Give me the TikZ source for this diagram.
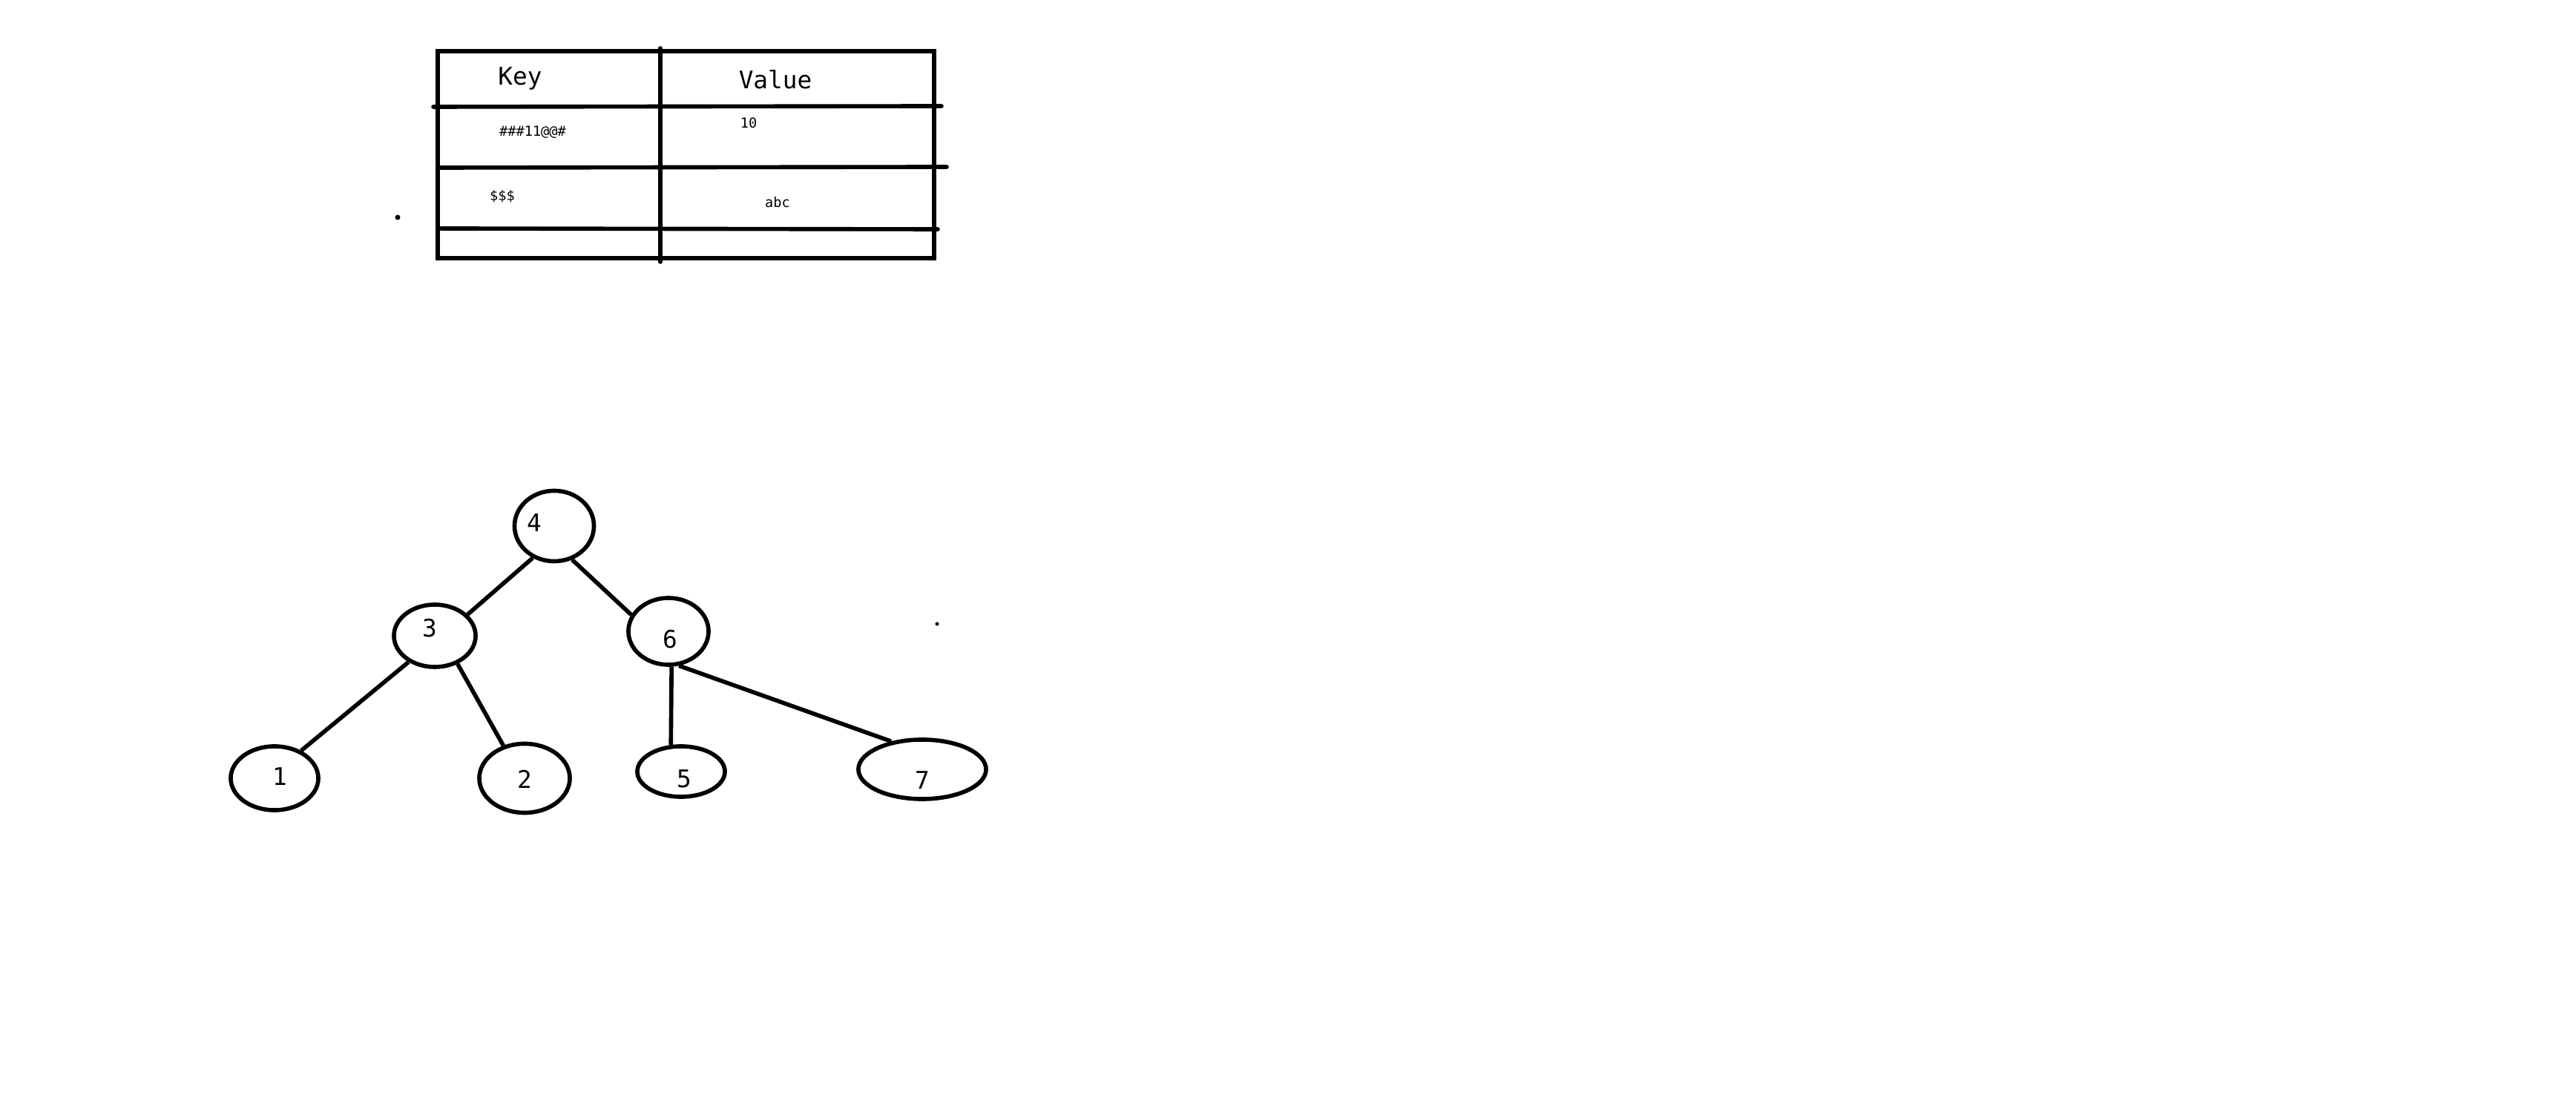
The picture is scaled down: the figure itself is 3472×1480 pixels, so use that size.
\documentclass[tikz,border=0pt]{standalone}
\usepackage{fontspec}
\setmonofont{DejaVu Sans Mono}
\usetikzlibrary{shapes.geometric}
\tikzset{
	every picture/.style={font=\ttfamily\fontsize{9.3}{9.3}\selectfont,},
	small/.style={font=\ttfamily\fontsize{5.3}{5.3}\selectfont,},
	lw/.style={line width=1.6pt,},
	%%%
	tbl/.style={black, lw, line cap=round},
	treenode/.style={ellipse, draw, black, lw, inner sep=0},
	edge/.style={black, lw},
	dot/.style={black, fill=black},
}

\begin{document}
\begin{tikzpicture}[x=0.01cm, y=-0.01cm]

	\useasboundingbox (0,0) rectangle (3472,1480);

	%%% Table

	\draw[tbl] (590,69) rectangle (1259,348);
	\draw[tbl] (890,65) -- (890,353);
	\draw[tbl] (584,144) -- (1269,143);
	\draw[tbl] (592,226) -- (1276,225);
	\draw[tbl] (594,308) -- (1264,309);

	\node (key) at (701,106) {Key};
	\node (value) at (1045,107) {Value};
	\node[small] (k1) at (718,178) {\#\#\#11@@\#};
	\node[small] (v1) at (1009,166) {10};
	\node[small] (k2) at (677,265) {\$\$\$};
	\node[small] (v2) at (1048,273) {abc};

	\fill[dot] (536,293) circle[radius=0.035cm];

	%%% Tree

	\node[treenode, minimum width=1.07cm, minimum height=0.95cm, label={[xshift=-0.27cm, yshift=0.04cm]center:4}] (n4) at (747,709) {};
	\node[treenode, minimum width=1.10cm, minimum height=0.84cm, label={[xshift=-0.07cm, yshift=0.10cm]center:3}] (n3) at (586,857) {};
	\node[treenode, minimum width=1.08cm, minimum height=0.90cm, label={[xshift=0.02cm, yshift=-0.11cm]center:6}] (n6) at (901,851) {};
	\node[treenode, minimum width=1.18cm, minimum height=0.86cm, label={[xshift=0.07cm, yshift=0.02cm]center:1}] (n1) at (370,1049) {};
	\node[treenode, minimum width=1.22cm, minimum height=0.93cm, label={[yshift=-0.01cm]center:2}] (n2) at (707,1049) {};
	\node[treenode, minimum width=1.18cm, minimum height=0.68cm, label={[xshift=0.04cm, yshift=-0.10cm]center:5}] (n5) at (918,1040) {};
	\node[treenode, minimum width=1.72cm, minimum height=0.80cm, label={[yshift=-0.15cm]center:7}] (n7) at (1243,1037) {};

	\draw[edge] (n4.236) -- (n3.33);
	\draw[edge] (n4.298) -- (n6.156);
	\draw[edge] (n3.225) -- (n1.46);
	\draw[edge] (n3.309) -- (n2.123);
	\draw[edge] (n6.275) -- (n5.111);
	\draw[edge] (n6.287) -- (n7.138);

	\fill[dot] (1263,841) circle[radius=0.025cm];

\end{tikzpicture}
\end{document}
